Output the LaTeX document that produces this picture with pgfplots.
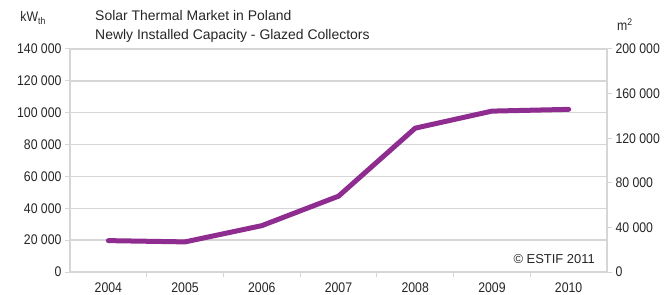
\documentclass[border=0pt]{standalone}
\usepackage{pgfplots}
\pgfplotsset{compat=1.18}
\usepackage{fontspec}
\setmainfont{Liberation Sans}
\newfontfamily\narrowfont[FakeStretch=0.88]{Liberation Sans}
\definecolor{linepurple}{HTML}{8E2C8F}
\definecolor{gridgray}{HTML}{D6D6D6}
\definecolor{txt}{HTML}{262626}
\begin{document}
\begin{tikzpicture}
\useasboundingbox (-70bp,-23bp) rectangle (596bp,272bp);
\pgfplotsset{
  common/.style={
    at={(0,0)}, anchor=south west,
    scale only axis, width=537bp, height=223bp,
    xmin=-0.5, xmax=6.5,
    tick align=outside,
    major tick length=5bp, minor tick length=5bp,
    tick style={draw=gridgray, line width=1bp},
    axis line style={draw=gridgray, line width=1.5bp, -},
    ticklabel style={font=\narrowfont\fontsize{14}{16}\selectfont, text=txt},
    scaled ticks=false,
    /pgf/number format/fixed,
    /pgf/number format/1000 sep={\ },
    /pgf/number format/assume math mode=true,
  }
}
\begin{axis}[common,
  ymin=0, ymax=140000,
  axis x line*=bottom, axis y line*=left,
  xtick={0,...,6}, xticklabels={2004,2005,2006,2007,2008,2009,2010},
  x tick style={draw=none},
  minor xtick={0.5,1.5,2.5,3.5,4.5,5.5},
  minor x tick style={draw=gridgray, line width=1bp},
  xticklabel style={yshift=-2.5bp},
  ytick={0,20000,...,140000},
  ymajorgrids, grid style={draw=gridgray, line width=1.5bp},
]
\addplot[color=linepurple, line width=5bp, line join=round, line cap=round]
  coordinates {(0,19700) (1,18900) (2,29100) (3,47600) (4,90300) (5,101000) (6,102100)};
\end{axis}
\begin{axis}[common,
  ymin=0, ymax=200000,
  axis x line=none, axis y line*=right,
  ytick={0,40000,...,200000},
]
\end{axis}
\node[anchor=base west, text=txt, font=\fontsize{14}{16}\selectfont, inner sep=0pt] at (25bp,251bp) {Solar Thermal Market in Poland};
\node[anchor=base west, text=txt, font=\fontsize{14}{16}\selectfont, inner sep=0pt] at (25bp,232bp) {Newly Installed Capacity - Glazed Collectors};
\node[anchor=base east, text=txt, font=\narrowfont\fontsize{14}{16}\selectfont, inner sep=0pt] at (-24bp,250bp) {kW\textsubscript{th}};
\node[anchor=base west, text=txt, font=\narrowfont\fontsize{14}{16}\selectfont, inner sep=0pt] at (547bp,241bp) {m\textsuperscript{2}};
\node[anchor=base east, text=txt, font=\fontsize{13}{15}\selectfont, inner sep=0pt] at (525bp,9bp) {© ESTIF 2011};
\end{tikzpicture}
\end{document}
